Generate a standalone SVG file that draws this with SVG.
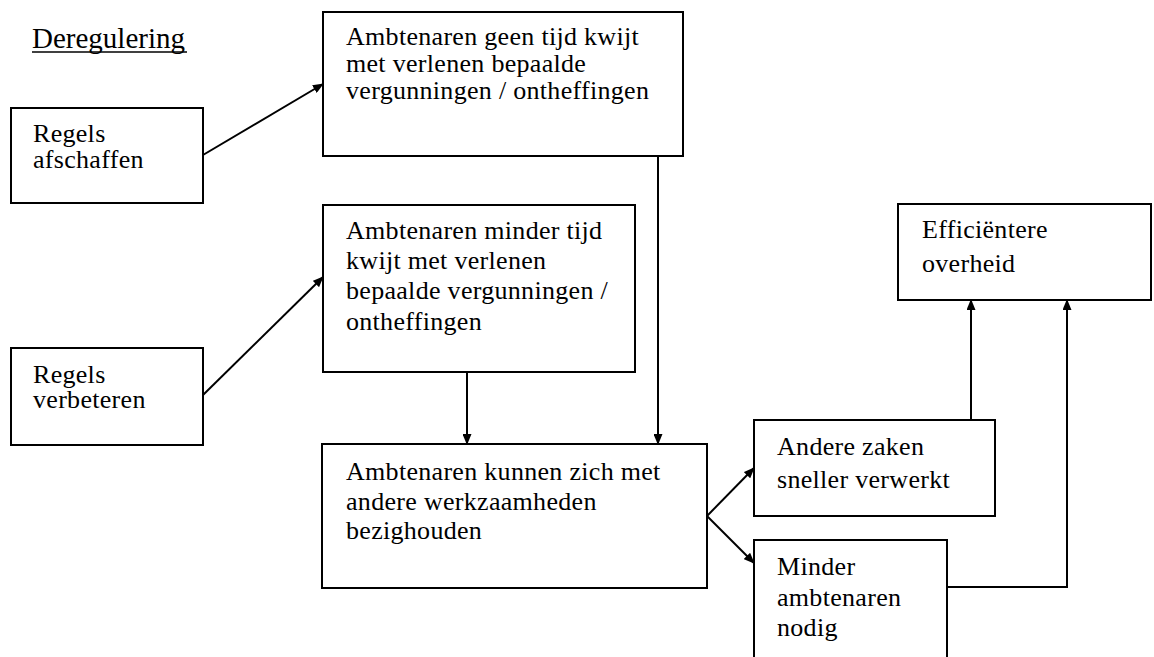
<svg xmlns="http://www.w3.org/2000/svg" width="1154" height="657" viewBox="0 0 1154 657">
<style>
.box{fill:#fff;stroke:#000;stroke-width:2}
.t{font-family:"Liberation Serif","Times New Roman",serif;font-size:26px;letter-spacing:0.3px;fill:#000}
.h{font-family:"Liberation Serif","Times New Roman",serif;font-size:29px;fill:#000}
.c{fill:none;stroke:#000;stroke-width:2}
</style>
<defs>
<marker id="ah" markerUnits="userSpaceOnUse" markerWidth="11" markerHeight="9" refX="10" refY="4.5" orient="auto">
<path d="M0,0 L11,4.5 L0,9 Z" fill="#000"/>
</marker>
</defs>
<rect width="1154" height="657" fill="#fff"/>
<g id="title">
<text class="h" x="32" y="48">Deregulering</text>
<line x1="32" y1="52" x2="187" y2="52" stroke="#000" stroke-width="1.5"/>
</g>
<g id="n-afschaffen">
<rect class="box" x="11" y="108" width="192" height="95"/>
<text class="t" x="33" y="142">Regels</text>
<text class="t" x="33" y="168">afschaffen</text>
</g>
<g id="n-verbeteren">
<rect class="box" x="11" y="348" width="192" height="97"/>
<text class="t" x="33" y="383">Regels</text>
<text class="t" x="33" y="408">verbeteren</text>
</g>
<g id="n-geentijd">
<rect class="box" x="323" y="12" width="360" height="144"/>
<text class="t" x="346" y="45">Ambtenaren geen tijd kwijt</text>
<text class="t" x="346" y="72">met verlenen  bepaalde</text>
<text class="t" x="346" y="99">vergunningen / ontheffingen</text>
</g>
<g id="n-mindertijd">
<rect class="box" x="323" y="205" width="312" height="167"/>
<text class="t" x="346" y="239">Ambtenaren minder tijd</text>
<text class="t" x="346" y="269">kwijt met verlenen</text>
<text class="t" x="346" y="299">bepaalde vergunningen /</text>
<text class="t" x="346" y="330">ontheffingen</text>
</g>
<g id="n-bezig">
<rect class="box" x="322" y="444" width="385" height="144"/>
<text class="t" x="346" y="480">Ambtenaren kunnen zich met</text>
<text class="t" x="346" y="510">andere werkzaamheden</text>
<text class="t" x="346" y="539">bezighouden</text>
</g>
<g id="n-efficient">
<rect class="box" x="898" y="204" width="253" height="96"/>
<text class="t" x="922" y="238">Efficiëntere</text>
<text class="t" x="922" y="272">overheid</text>
</g>
<g id="n-sneller">
<rect class="box" x="754" y="420" width="241" height="96"/>
<text class="t" x="777" y="455">Andere zaken</text>
<text class="t" x="777" y="488">sneller verwerkt</text>
</g>
<g id="n-minder">
<rect class="box" x="754" y="540" width="193" height="130"/>
<text class="t" x="777" y="575">Minder</text>
<text class="t" x="777" y="606">ambtenaren</text>
<text class="t" x="777" y="636">nodig</text>
</g>
<g id="connectors">
<line class="c" x1="203" y1="155" x2="323" y2="84" marker-end="url(#ah)"/>
<line class="c" x1="203" y1="395" x2="323" y2="277" marker-end="url(#ah)"/>
<line class="c" x1="467" y1="372" x2="467" y2="444" marker-end="url(#ah)"/>
<line class="c" x1="658" y1="156" x2="658" y2="444" marker-end="url(#ah)"/>
<polyline class="c" points="707,516 754,468" marker-end="url(#ah)"/>
<polyline class="c" points="707,516 754,563" marker-end="url(#ah)"/>
<line class="c" x1="971" y1="420" x2="971" y2="300" marker-end="url(#ah)"/>
<polyline class="c" points="947,587 1067,587 1067,300" marker-end="url(#ah)"/>
</g>
</svg>
